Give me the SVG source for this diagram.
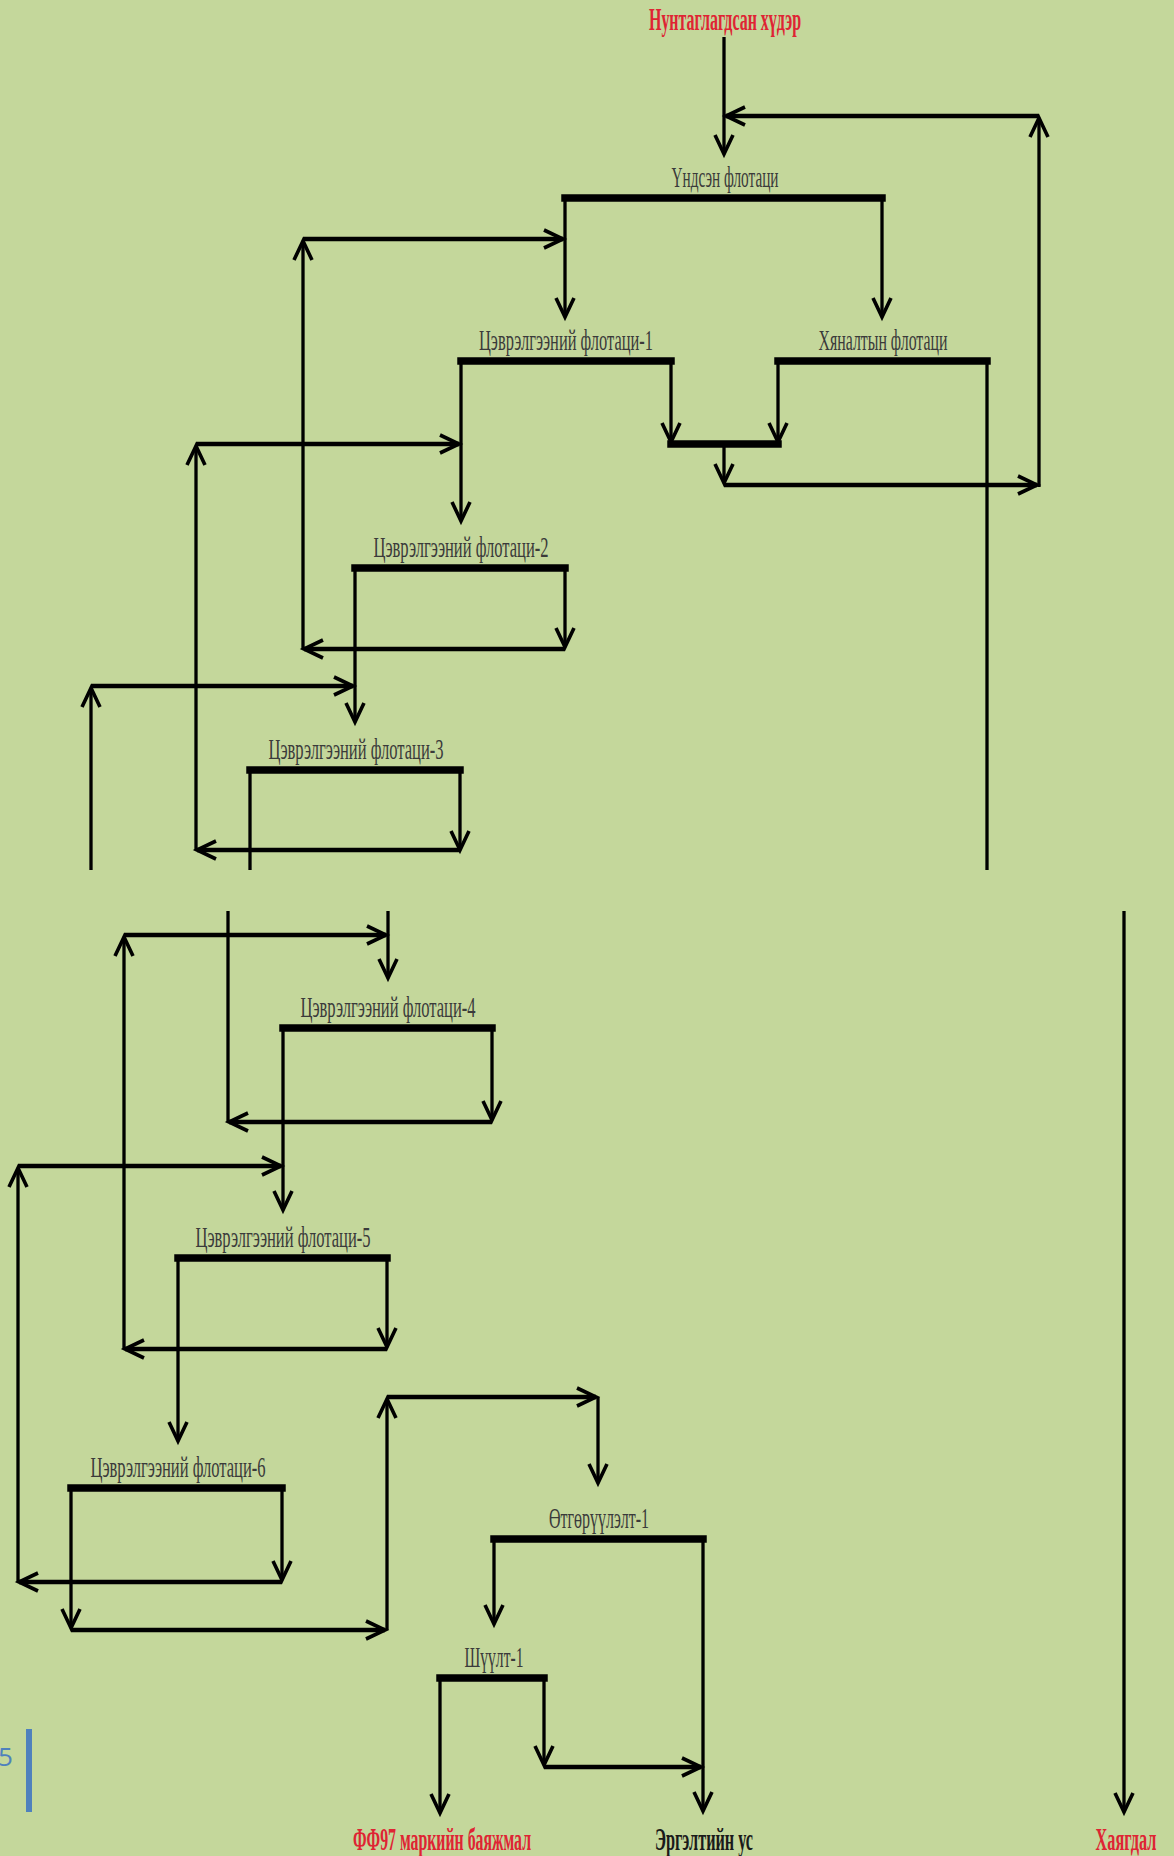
<svg xmlns="http://www.w3.org/2000/svg" width="1174" height="1856" viewBox="0 0 1174 1856">
<style>
.lbl{font-family:"Liberation Serif","Times New Roman",serif;font-size:29px;fill:#3a3a3a;text-anchor:middle}
.end{font-family:"Liberation Serif","Times New Roman",serif;font-size:31px;font-weight:bold}
.endc{font-family:"Liberation Serif","Times New Roman",serif;font-size:17px;font-weight:bold;text-anchor:middle}
.red{fill:#df2433}
.blk{fill:#1a1a1a}
.bar{stroke:#000;stroke-width:7.5;fill:none;stroke-linecap:square}
.v{stroke:#000;stroke-width:3.3;fill:none}
.h{stroke:#000;stroke-width:4.6;fill:none}
.ar{marker-end:url(#ah)}
</style>
<defs>
<marker id="ah" viewBox="-24 -12 32 24" refX="0" refY="0" markerWidth="32" markerHeight="24" markerUnits="userSpaceOnUse" orient="auto">
<path d="M-19,-9 L0,0 L-19,9" fill="none" stroke="#000" stroke-width="3.6"/>
</marker>
</defs>
<rect x="0" y="0" width="1174" height="1856" fill="#c4d79b"/>

<g id="page-number">
<text x="-2" y="1766" font-family="'Open Sans','Liberation Sans',sans-serif" font-size="26" fill="#4f81bd">5</text>
<rect x="26" y="1729" width="6" height="83" fill="#4f81bd"/>
</g>

<g id="connectors">
<line class="v ar" x1="724" y1="37" x2="724" y2="154"/>
<line class="v ar" x1="1039" y1="487" x2="1039" y2="118"/>
<line class="h ar" x1="1039" y1="116" x2="726" y2="116"/>
<line class="v ar" x1="565" y1="198" x2="565" y2="317"/>
<line class="v ar" x1="882" y1="198" x2="882" y2="317"/>
<line class="h ar" x1="565" y1="649" x2="304" y2="649"/>
<line class="v ar" x1="303" y1="649" x2="303" y2="241"/>
<line class="h ar" x1="303" y1="239" x2="563" y2="239"/>
<line class="v ar" x1="461" y1="361" x2="461" y2="521"/>
<line class="v ar" x1="671" y1="361" x2="671" y2="442"/>
<line class="v ar" x1="778" y1="361" x2="778" y2="442"/>
<line class="v" x1="987" y1="361" x2="987" y2="870"/>
<line class="bar" x1="671" y1="444" x2="778" y2="444"/>
<line class="v ar" x1="724" y1="444" x2="724" y2="483"/>
<line class="h ar" x1="724" y1="485" x2="1037" y2="485"/>
<line class="v ar" x1="460" y1="770" x2="460" y2="850"/>
<line class="h ar" x1="460" y1="850" x2="197" y2="850"/>
<line class="v ar" x1="196" y1="850" x2="196" y2="446"/>
<line class="h ar" x1="196" y1="444" x2="459" y2="444"/>
<line class="v ar" x1="355" y1="568" x2="355" y2="722"/>
<line class="v ar" x1="565" y1="568" x2="565" y2="647"/>
<line class="v ar" x1="91" y1="870" x2="91" y2="688"/>
<line class="h ar" x1="91" y1="686" x2="353" y2="686"/>
<line class="v" x1="250" y1="770" x2="250" y2="870"/>

<line class="v" x1="228" y1="911" x2="228" y2="1122"/>
<line class="h ar" x1="492" y1="1122" x2="229" y2="1122"/>
<line class="v ar" x1="388" y1="911" x2="388" y2="978"/>
<line class="v ar" x1="124" y1="1349" x2="124" y2="937"/>
<line class="h ar" x1="124" y1="935" x2="386" y2="935"/>
<line class="v ar" x1="283" y1="1028" x2="283" y2="1210"/>
<line class="v ar" x1="492" y1="1028" x2="492" y2="1120"/>
<line class="v ar" x1="18" y1="1582" x2="18" y2="1168"/>
<line class="h ar" x1="18" y1="1166" x2="281" y2="1166"/>
<line class="v ar" x1="178" y1="1258" x2="178" y2="1441"/>
<line class="v ar" x1="387" y1="1258" x2="387" y2="1347"/>
<line class="h ar" x1="387" y1="1349" x2="125" y2="1349"/>
<line class="v ar" x1="71" y1="1488" x2="71" y2="1628"/>
<line class="v ar" x1="282" y1="1488" x2="282" y2="1580"/>
<line class="h ar" x1="282" y1="1582" x2="19" y2="1582"/>
<line class="h ar" x1="71" y1="1630" x2="385" y2="1630"/>
<line class="v ar" x1="387" y1="1630" x2="387" y2="1399"/>
<line class="h ar" x1="387" y1="1397" x2="596" y2="1397"/>
<line class="v ar" x1="598" y1="1397" x2="598" y2="1483"/>
<line class="v ar" x1="494" y1="1539" x2="494" y2="1624"/>
<line class="v ar" x1="703" y1="1539" x2="703" y2="1811"/>
<line class="v ar" x1="440" y1="1678" x2="440" y2="1813"/>
<line class="v ar" x1="544" y1="1678" x2="544" y2="1765"/>
<line class="h ar" x1="544" y1="1767" x2="701" y2="1767"/>
<line class="v ar" x1="1124" y1="911" x2="1124" y2="1812"/>
</g>

<g id="node-feed">
<text class="end red" x="725" y="30" text-anchor="middle" textLength="152" lengthAdjust="spacingAndGlyphs">Нунтаглагдсан хүдэр</text>
</g>
<g id="node-main">
<line class="bar" x1="565" y1="198" x2="882" y2="198"/>
<text class="lbl" x="725" y="187" textLength="107" lengthAdjust="spacingAndGlyphs">Үндсэн флотаци</text>
</g>
<g id="node-clean1">
<line class="bar" x1="461" y1="361" x2="671" y2="361"/>
<text class="lbl" x="566" y="350" textLength="174" lengthAdjust="spacingAndGlyphs">Цэврэлгээний флотаци-1</text>
</g>
<g id="node-control">
<line class="bar" x1="778" y1="361" x2="987" y2="361"/>
<text class="lbl" x="883" y="350" textLength="129" lengthAdjust="spacingAndGlyphs">Хяналтын флотаци</text>
</g>
<g id="node-clean2">
<line class="bar" x1="355" y1="568" x2="565" y2="568"/>
<text class="lbl" x="461" y="557" textLength="175" lengthAdjust="spacingAndGlyphs">Цэврэлгээний флотаци-2</text>
</g>
<g id="node-clean3">
<line class="bar" x1="250" y1="770" x2="460" y2="770"/>
<text class="lbl" x="356" y="759" textLength="175" lengthAdjust="spacingAndGlyphs">Цэврэлгээний флотаци-3</text>
</g>
<g id="node-clean4">
<line class="bar" x1="283" y1="1028" x2="492" y2="1028"/>
<text class="lbl" x="388" y="1017" textLength="175" lengthAdjust="spacingAndGlyphs">Цэврэлгээний флотаци-4</text>
</g>
<g id="node-clean5">
<line class="bar" x1="178" y1="1258" x2="387" y2="1258"/>
<text class="lbl" x="283" y="1247" textLength="175" lengthAdjust="spacingAndGlyphs">Цэврэлгээний флотаци-5</text>
</g>
<g id="node-clean6">
<line class="bar" x1="71" y1="1488" x2="282" y2="1488"/>
<text class="lbl" x="178" y="1477" textLength="175" lengthAdjust="spacingAndGlyphs">Цэврэлгээний флотаци-6</text>
</g>
<g id="node-thicken">
<line class="bar" x1="494" y1="1539" x2="703" y2="1539"/>
<text class="lbl" x="599" y="1528" textLength="100" lengthAdjust="spacingAndGlyphs">Өтгөрүүлэлт-1</text>
</g>
<g id="node-filter">
<line class="bar" x1="440" y1="1678" x2="544" y2="1678"/>
<text class="lbl" x="494" y="1667" textLength="59" lengthAdjust="spacingAndGlyphs">Шүүлт-1</text>
</g>
<g id="node-concentrate">
<text class="endc red" transform="translate(442,1850) scale(1,1.8)" x="0" y="0" textLength="178" lengthAdjust="spacingAndGlyphs">ФФ97 маркийн баяжмал</text>
</g>
<g id="node-water">
<text class="endc blk" transform="translate(704,1850) scale(1,1.8)" x="0" y="0" textLength="98" lengthAdjust="spacingAndGlyphs">Эргэлтийн ус</text>
</g>
<g id="node-tailings">
<text class="endc red" transform="translate(1126,1850) scale(1,1.8)" x="0" y="0" textLength="61" lengthAdjust="spacingAndGlyphs">Хаягдал</text>
</g>
</svg>
